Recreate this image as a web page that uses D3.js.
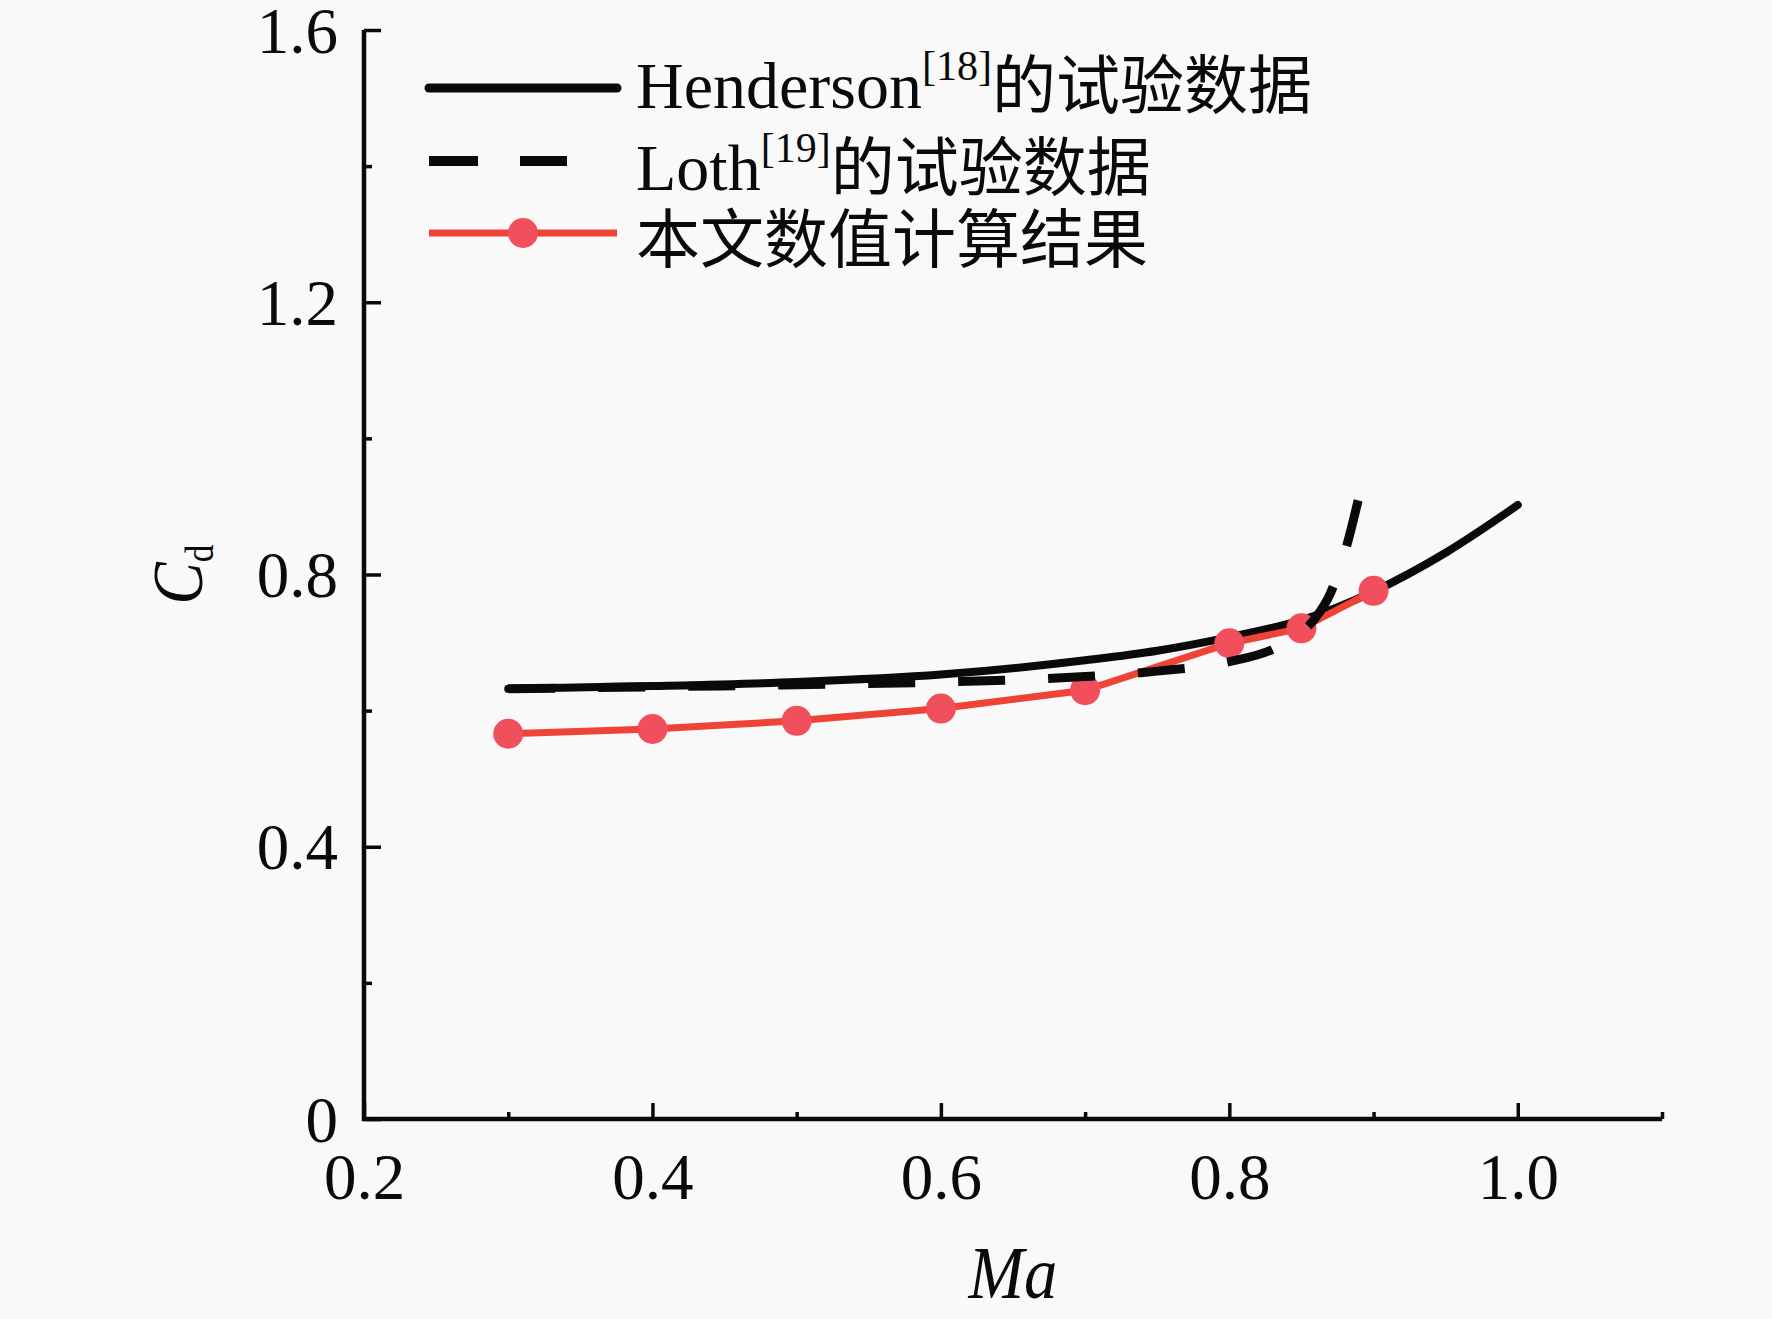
<!DOCTYPE html>
<html>
<head>
<meta charset="utf-8">
<script src="https://cdn.jsdelivr.net/npm/d3@7"></script>
<style>
  html, body { margin: 0; padding: 0; background: #f9f9f9; }
  svg { display: block; }
</style>
</head>
<body>
<script>
// ---- data ----
const hendersonMa = [0.30, 0.40, 0.50, 0.60, 0.70, 0.75, 0.80, 0.85, 0.90, 0.95, 1.00];
const hendersonCd = [0.632, 0.636, 0.642, 0.653, 0.674, 0.688, 0.708, 0.733, 0.775, 0.832, 0.902];

const lothMa = [0.30, 0.40, 0.50, 0.60, 0.70, 0.75, 0.80, 0.83, 0.85, 0.86, 0.87, 0.88, 0.89];
const lothCd = [0.632, 0.635, 0.638, 0.642, 0.650, 0.658, 0.672, 0.690, 0.715, 0.737, 0.772, 0.832, 0.915];

const presentMa = [0.30, 0.40, 0.50, 0.60, 0.70, 0.80, 0.85, 0.90];
const presentCd = [0.566, 0.573, 0.585, 0.603, 0.630, 0.699, 0.721, 0.776];

const xMajorTicks = [0.2, 0.4, 0.6, 0.8, 1.0];
const xMinorTicks = [0.3, 0.5, 0.7, 0.9, 1.1];
const yMajorTicks = [0, 0.4, 0.8, 1.2, 1.6];
const yMinorTicks = [0.2, 0.6, 1.0, 1.4];

const legendLabels = [
  {main: "Henderson", sup: "[18]", tail: "的试验数据"},
  {main: "Loth", sup: "[19]", tail: "的试验数据"},
  {main: "", sup: "", tail: "本文数值计算结果"}
];

// ---- layout ----
const W = 1772, H = 1319;
const serif = "'Liberation Serif', 'Times New Roman', 'Noto Sans CJK SC', serif";
const cjk = "'Noto Sans CJK SC', sans-serif";

const svg = d3.select("body").append("svg")
  .attr("width", W).attr("height", H)
  .style("background", "#f9f9f9");

const x = d3.scaleLinear().domain([0.2, 1.1]).range([364, 1662]);
const y = d3.scaleLinear().domain([0, 1.6]).range([1119, 30]);

const henderson = hendersonMa.map((m, i) => ({x: m, y: hendersonCd[i]}));
const loth = lothMa.map((m, i) => ({x: m, y: lothCd[i]}));
const present = presentMa.map((m, i) => ({x: m, y: presentCd[i]}));

const line = d3.line().x(d => x(d.x)).y(d => y(d.y)).curve(d3.curveMonotoneX);
const lineLin = d3.line().x(d => x(d.x)).y(d => y(d.y));

const black = "#0a0a0a";
const redLine = "#ef4336";
const redMark = "#f24f5d";

// series: Henderson, present, Loth
svg.append("path").datum(henderson)
  .attr("d", line).attr("fill", "none")
  .attr("stroke", black).attr("stroke-width", 8).attr("stroke-linecap", "round");

svg.append("path").datum(present)
  .attr("d", lineLin).attr("fill", "none")
  .attr("stroke", redLine).attr("stroke-width", 7);

svg.selectAll("circle.pt").data(present).enter().append("circle")
  .attr("class", "pt")
  .attr("cx", d => x(d.x)).attr("cy", d => y(d.y)).attr("r", 15)
  .attr("fill", redMark);

svg.append("path").datum(loth)
  .attr("d", line).attr("fill", "none")
  .attr("stroke", black).attr("stroke-width", 9)
  .attr("stroke-dasharray", "47,43");

// ---- axes ----
const fmt = d => d === 0 ? "0" : d3.format(".1f")(d);

const gx = svg.append("g").attr("transform", `translate(0,${y(0)})`);
gx.call(d3.axisBottom(x).tickValues(xMajorTicks).tickFormat(fmt)
  .tickSizeInner(-16).tickSizeOuter(0).tickPadding(40));
const gxm = svg.append("g").attr("transform", `translate(0,${y(0)})`);
gxm.call(d3.axisBottom(x).tickValues(xMinorTicks).tickFormat("")
  .tickSizeInner(-7).tickSizeOuter(0));

const gy = svg.append("g").attr("transform", `translate(${x(0.2)},0)`);
gy.call(d3.axisLeft(y).tickValues(yMajorTicks).tickFormat(fmt)
  .tickSizeInner(-17).tickSizeOuter(0).tickPadding(26));
const gym = svg.append("g").attr("transform", `translate(${x(0.2)},0)`);
gym.call(d3.axisLeft(y).tickValues(yMinorTicks).tickFormat("")
  .tickSizeInner(-8).tickSizeOuter(0));

[gx, gxm, gy, gym].forEach(g => {
  g.select(".domain").attr("stroke", black).attr("stroke-width", 4.5);
  g.selectAll(".tick line").attr("stroke", black).attr("stroke-width", 3.5);
  g.selectAll(".tick text").attr("fill", black)
    .style("font-family", serif).style("font-size", "65px");
});
gxm.select(".domain").remove();
gym.select(".domain").remove();
gx.select(".domain").attr("d", `M${x(0.2) - 2},0H${x(1.1)}`);
gy.select(".domain").attr("d", `M0,${y(0) + 2}V${y(1.6)}`);
gy.selectAll(".tick text").attr("dy", null).attr("dominant-baseline", null)
  .attr("y", 22);
gx.selectAll(".tick text").attr("dy", null).attr("y", 80);

// axis titles
svg.append("text")
  .attr("transform", `translate(${x(0.65)},1298) scale(0.9,1)`)
  .attr("text-anchor", "middle")
  .style("font-family", serif).style("font-size", "74px").style("font-style", "italic")
  .attr("fill", black)
  .text("Ma");

const cd = svg.append("text")
  .attr("transform", `translate(202,${(y(0) + y(1.6)) / 2}) rotate(-90) scale(0.88,1)`)
  .attr("text-anchor", "middle")
  .style("font-family", serif).attr("fill", black);
cd.append("tspan").style("font-size", "72px").style("font-style", "italic").text("C");
cd.append("tspan").style("font-size", "40px").attr("dy", 11).text("d");

// ---- legend ----
const legY = [88, 161, 233];
const legX0 = 429, legX1 = 617, textX = 636;
const textBase = [108, 190, 262];

const lg = svg.append("g");
lg.append("line").attr("x1", legX0).attr("x2", legX1).attr("y1", legY[0]).attr("y2", legY[0])
  .attr("stroke", black).attr("stroke-width", 9).attr("stroke-linecap", "round");
lg.append("line").attr("x1", legX0).attr("x2", legX0 + 138).attr("y1", legY[1]).attr("y2", legY[1])
  .attr("stroke", black).attr("stroke-width", 10).attr("stroke-dasharray", "49,42");
lg.append("line").attr("x1", legX0).attr("x2", legX1).attr("y1", legY[2]).attr("y2", legY[2])
  .attr("stroke", redLine).attr("stroke-width", 7);
lg.append("circle").attr("cx", (legX0 + legX1) / 2).attr("cy", legY[2]).attr("r", 15)
  .attr("fill", redMark);

legendLabels.forEach((l, i) => {
  const t = lg.append("text").attr("x", textX).attr("y", textBase[i])
    .style("font-family", serif).style("font-size", "66px").attr("fill", black);
  if (l.main) t.append("tspan").text(l.main);
  if (l.sup) t.append("tspan").style("font-size", "42px").attr("dy", -28).text(l.sup);
  t.append("tspan").style("font-family", cjk).style("font-size", "64px")
    .attr("dy", l.sup ? 28 : 0).text(l.tail);
});
</script>
</body>
</html>
